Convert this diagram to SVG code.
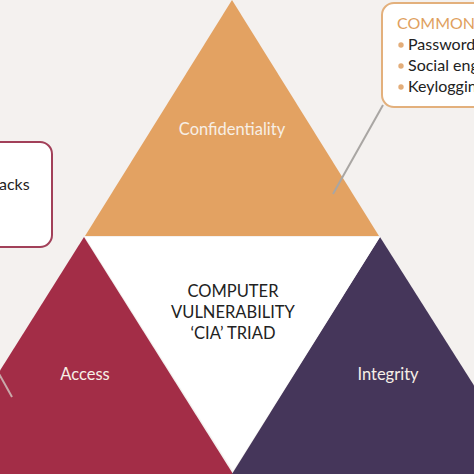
<svg xmlns="http://www.w3.org/2000/svg" width="474" height="474" viewBox="0 0 474 474">
<style>
.lbl{font-family:Lato,"Open Sans","Liberation Sans",sans-serif;font-size:16.5px;text-anchor:middle}
.wt{fill:#f7efe6}
.dk{fill:#222222}
.box{font-family:Lato,"Open Sans","Liberation Sans",sans-serif;font-size:16px;fill:#222222}
.conn{stroke:#a9a6a3;stroke-width:2;fill:none}
</style>
<rect width="474" height="474" fill="#f4f1ef"/>
<g id="confidentiality">
<polygon points="232,0 379,236 85,236" fill="#e3a262"/>
<text class="lbl wt" x="232" y="135">Confidentiality</text>
</g>
<g id="access">
<polygon points="84,237 233,474 -65,474" fill="#a32d47"/>
<text class="lbl wt" x="85" y="380">Access</text>
</g>
<g id="integrity">
<polygon points="380,237 530,474 232,474" fill="#45365a"/>
<text class="lbl wt" x="388" y="380">Integrity</text>
</g>
<g id="center">
<polygon points="85,237 380,237 233,471" fill="#ffffff"/>
<text class="lbl dk" x="233" y="297">COMPUTER</text>
<text class="lbl dk" x="233" y="318">VULNERABILITY</text>
<text class="lbl dk" x="233" y="339">‘CIA’ TRIAD</text>
</g>
<g id="connectors">
<line class="conn" x1="333" y1="194" x2="383" y2="105"/>
<line x1="-2" y1="372" x2="12" y2="397" stroke="#c9a9aa" stroke-width="2"/>
</g>
<g id="common-box">
<rect x="382" y="3" width="120" height="104" rx="12" fill="#ffffff" stroke="#e3b07c" stroke-width="2"/>
<text class="box" x="397" y="29" style="fill:#e09f5e">COMMON</text>
<circle cx="401" cy="45" r="2.7" fill="#e3ad79"/>
<text class="box" x="408" y="50">Password</text>
<circle cx="401" cy="66" r="2.7" fill="#e3ad79"/>
<text class="box" x="408" y="71">Social eng</text>
<circle cx="401" cy="87" r="2.7" fill="#e3ad79"/>
<text class="box" x="408" y="92">Keylogging</text>
</g>
<g id="left-box">
<rect x="-40" y="142" width="92" height="105" rx="12" fill="#ffffff" stroke="#a24059" stroke-width="2"/>
<text class="box" x="-1" y="190">acks</text>
</g>
</svg>
